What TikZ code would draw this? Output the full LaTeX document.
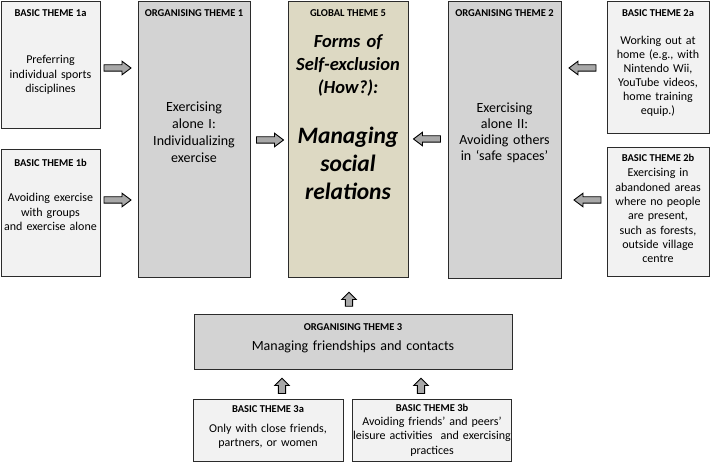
\documentclass[tikz,border=0pt]{standalone}
\usepackage{fontspec}
\setmainfont{Carlito}
\definecolor{basicfill}{HTML}{F2F2F2}
\definecolor{orgfill}{HTML}{D3D3D3}
\definecolor{globfill}{HTML}{DDD9C3}
\definecolor{edge}{HTML}{2B2B2B}
\definecolor{arrfill}{HTML}{A8A8A8}
\begin{document}
\begin{tikzpicture}[x=1pt,y=-1pt,
  box/.style={draw=edge, line width=1.3pt, inner sep=0pt, anchor=north west},
  basic/.style={box, fill=basicfill},
  org/.style={box, fill=orgfill},
  glob/.style={box, fill=globfill},
  ttl/.style={anchor=base, inner sep=0pt, font=\fontsize{10.5}{12}\selectfont\bfseries},
  bdy/.style={anchor=base, inner sep=0pt, align=center, text width=#1},
  arrline/.style={draw=black, fill=arrfill, line width=0.9pt, line join=miter},
  pics/harr/.style={code={
    \path[arrline] (-13.5,-3.2) -- (4.5,-3.2) -- (4.5,-6.8) -- (13.5,0) -- (4.5,6.8)
      -- (4.5,3.2) -- (-13.5,3.2) -- cycle;}},
  pics/varr/.style={code={
    \path[arrline] (-3.6,#1) -- (-3.6,0) -- (-7.3,0) -- (0,-7.2) -- (7.3,0)
      -- (3.6,0) -- (3.6,#1) -- cycle;}}
]
\useasboundingbox (0,0) rectangle (710,462);

% boxes
\node[basic, minimum width=99pt, minimum height=127pt] (b1a) at (1,1) {};
\node[basic, minimum width=99pt, minimum height=127pt] (b1b) at (1,149) {};
\node[org, minimum width=112pt, minimum height=276pt] (o1) at (138,1) {};
\node[glob, minimum width=120pt, minimum height=276pt] (g5) at (288,1) {};
\node[org, minimum width=113pt, minimum height=277pt] (o2) at (448,1) {};
\node[basic, minimum width=102pt, minimum height=132pt] (b2a) at (607,1) {};
\node[basic, minimum width=102pt, minimum height=129pt] (b2b) at (607,147) {};
\node[org, minimum width=318pt, minimum height=55pt] (o3) at (194,314) {};
\node[basic, minimum width=150pt, minimum height=62pt] (b3a) at (193,399) {};
\node[basic, minimum width=159pt, minimum height=62pt] (b3b) at (352,399) {};

% titles
\node[ttl] (t1a) at (50.5,17) {BASIC THEME 1a};
\node[ttl] (t1b) at (50.5,166.5) {BASIC THEME 1b};
\node[ttl] (to1) at (194,17) {ORGANISING THEME 1};
\node[ttl] (tg5) at (348,17) {GLOBAL THEME 5};
\node[ttl] (to2) at (504.5,17) {ORGANISING THEME 2};
\node[ttl] (t2a) at (658,17) {BASIC THEME 2a};
\node[ttl] (t2b) at (658,162) {BASIC THEME 2b};
\node[ttl] (to3) at (353,331) {ORGANISING THEME 3};
\node[ttl] (t3a) at (268,413) {BASIC THEME 3a};
\node[ttl] (t3b) at (432,412) {BASIC THEME 3b};

% body texts
\node[bdy=99pt, font=\fontsize{12}{14.3}\selectfont] (x1a) at (50.5,64)
  {Preferring\\individual sports\\disciplines};
\node[bdy=99pt, font=\fontsize{12}{14.3}\selectfont] (x1b) at (50.5,202)
  {Avoiding exercise\\with groups\\and exercise alone};
\node[bdy=112pt, font=\fontsize{14}{16.7}\selectfont] (xo1) at (194,112)
  {Exercising\\alone I:\\Individualizing\\exercise};
\node[bdy=120pt, font=\fontsize{18.5}{23}\selectfont\bfseries\itshape] (xg5a) at (348,48)
  {Forms of\\Self-exclusion\\(How?):};
\node[bdy=120pt, font=\fontsize{23.5}{28}\selectfont\bfseries\itshape] (xg5b) at (348,144)
  {Managing\\social\\relations};
\node[bdy=113pt, font=\fontsize{14}{15.8}\selectfont] (xo2) at (504.5,112.7)
  {Exercising\\alone II:\\Avoiding others\\in ‘safe spaces’};
\node[bdy=102pt, font=\fontsize{12}{14}\selectfont] (x2a) at (658,45)
  {Working out at\\home (e.g., with\\Nintendo Wii,\\YouTube videos,\\home training\\equip.)};
\node[bdy=102pt, font=\fontsize{12}{14.3}\selectfont] (x2b) at (658,177)
  {Exercising in\\abandoned areas\\where no people\\are present,\\such as forests,\\outside village\\centre};
\node[bdy=318pt, font=\fontsize{14}{16}\selectfont] (xo3) at (353,351)
  {Managing friendships and contacts};
\node[bdy=150pt, font=\fontsize{12}{14}\selectfont] (x3a) at (268,432)
  {Only with close friends,\\partners, or women};
\node[bdy=160pt, font=\fontsize{12}{14.5}\selectfont] (x3b) at (432,425)
  {Avoiding friends’ and peers’\\leisure activities~ and exercising\\practices};

% block arrows
\pic (a1a) at (117.5,68) {harr};
\pic (a1b) at (117.5,200) {harr};
\pic (ao1) at (270,140) {harr};
\pic[rotate=180] (ao2) at (427,139) {harr};
\pic[rotate=180] (a2a) at (582.5,68) {harr};
\pic[rotate=180] (a2b) at (587.5,200) {harr};
\pic (ao3) at (349,299.5) {varr=6.8};
\pic (a3a) at (282,385.5) {varr=8};
\pic (a3b) at (421,385.5) {varr=8};
\end{tikzpicture}
\end{document}
